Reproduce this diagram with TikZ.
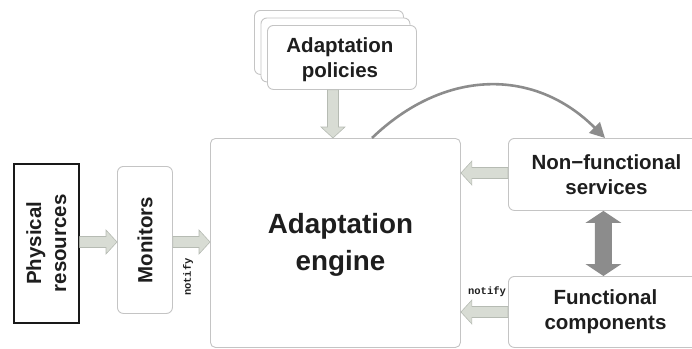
\documentclass[tikz,border=0pt]{standalone}
\usepackage{fontspec}
\setmainfont{Liberation Sans}
\setmonofont{Liberation Mono}
\usetikzlibrary{calc,arrows.meta}

\definecolor{boxline}{HTML}{C4C4C4}
\definecolor{txt}{HTML}{1E1E1E}
\definecolor{fatfill}{HTML}{D8DCD4}
\definecolor{fatline}{HTML}{B6BBB3}
\definecolor{darkarrow}{HTML}{8C8C8C}

% Block arrow from tail point #2 to tip point #3
\newcommand\fatarrow[3][]{%
  \path[fatstyle,#1] let \p1=#2, \p2=#3, \n1={atan2(\y2-\y1,\x2-\x1)} in
    ($(\p1)+(\n1+90:5.5pt)$)
    -- ($(\p2)+(\n1+180:11pt)+(\n1+90:5.5pt)$)
    -- ($(\p2)+(\n1+180:11pt)+(\n1+90:12pt)$)
    -- (\p2)
    -- ($(\p2)+(\n1+180:11pt)+(\n1-90:12pt)$)
    -- ($(\p2)+(\n1+180:11pt)+(\n1-90:5.5pt)$)
    -- ($(\p1)+(\n1-90:5.5pt)$) -- cycle;}

% Double-headed block arrow between tips #1 and #2
\newcommand\duoarrow[2]{%
  \path[duostyle] let \p1=#1, \p2=#2, \n1={atan2(\y2-\y1,\x2-\x1)} in
    (\p1)
    -- ($(\p1)+(\n1:12pt)+(\n1+90:18pt)$)
    -- ($(\p1)+(\n1:12pt)+(\n1+90:8.5pt)$)
    -- ($(\p2)+(\n1+180:12pt)+(\n1+90:8.5pt)$)
    -- ($(\p2)+(\n1+180:12pt)+(\n1+90:18pt)$)
    -- (\p2)
    -- ($(\p2)+(\n1+180:12pt)+(\n1-90:18pt)$)
    -- ($(\p2)+(\n1+180:12pt)+(\n1-90:8.5pt)$)
    -- ($(\p1)+(\n1:12pt)+(\n1-90:8.5pt)$)
    -- ($(\p1)+(\n1:12pt)+(\n1-90:18pt)$) -- cycle;}

\tikzset{
  x=1pt, y=-1pt,
  fatstyle/.style={fill=fatfill, draw=fatline, line width=0.6pt, line join=miter},
  duostyle/.style={fill=darkarrow},
  softbox/.style={draw=boxline, line width=0.9pt, rounded corners=6pt, fill=white,
    anchor=north west, inner sep=0pt, text=txt, align=center},
  label/.style={font=\fontsize{20.5}{25}\selectfont\bfseries, text=txt, align=center},
  note/.style={font=\fontsize{10.5}{12}\selectfont\ttfamily\bfseries, text=txt, inner sep=0pt},
}

\begin{document}
\begin{tikzpicture}
\useasboundingbox (0,0) rectangle (692,348);
\clip (0,0) rectangle (692,348);

% resources and monitoring
\node[draw=black!90, line width=1.6pt, anchor=north west, minimum width=65pt,
      minimum height=159pt, inner sep=0pt] (phys) at (13,163) {};
\node[label, rotate=90] (physt) at (phys.center) {Physical\\resources};

\node[softbox, minimum width=55pt, minimum height=147pt] (mon) at (117,166) {};
\node[label, rotate=90] (mont) at (mon.center) {Monitors};

% central engine
\node[softbox, rounded corners=5pt, minimum width=250pt, minimum height=209pt] (eng) at (210,138) {};
\node[font=\fontsize{27.8}{37}\selectfont\bfseries, text=txt, align=center] (engt)
  at ($(eng.center)+(5,2)$) {Adaptation\\engine};

% stacked policies
\node[softbox, minimum width=149pt, minimum height=64pt] (pol3) at (254,10) {};
\node[softbox, minimum width=149pt, minimum height=64pt] (pol2) at (260.5,17.5) {};
\node[softbox, minimum width=149pt, minimum height=64pt] (pol) at (267,25) {};
\node[label] (polt) at ($(pol.center)+(-2,2)$) {Adaptation\\policies};

% services and components
\node[softbox, minimum width=190pt, minimum height=72pt] (nf) at (508,138) {};
\node[label] (nft) at ($(nf.center)+(3,0)$) {Non−functional\\services};

\node[softbox, minimum width=190pt, minimum height=71pt] (fc) at (508,276) {};
\node[label] (fct) at ($(fc.center)+(2,0)$) {Functional\\components};

% block arrows
\fatarrow{(phys.east |- 0,242)}{(mon.west |- 0,242)}
\fatarrow{(mon.east |- 0,242)}{(eng.west |- 0,242)}
\coordinate (poltail) at ($(pol.south west)!0.44!(pol.south east)$);
\fatarrow{(poltail)}{(eng.north -| poltail)}
\fatarrow{(nf.west |- 0,173)}{(eng.east |- 0,173)}
\fatarrow{(fc.west |- 0,312)}{(eng.east |- 0,312)}
\duoarrow{(nf.south)}{(fc.north)}

% notification labels
\node[note, rotate=90] (n1) at (188,277) {notify};
\node[note] (n2) at (487,292) {notify};

% engine acting on non-functional services
\coordinate (arcstart) at (eng.north -| 372,0);
\coordinate (arcend) at (nf.north -| 605,0);
\draw[darkarrow, line width=2.6pt, -{Triangle[length=15pt,width=15pt]}]
  (arcstart) .. controls (445,68) and (535,68) .. (arcend);
\end{tikzpicture}
\end{document}
